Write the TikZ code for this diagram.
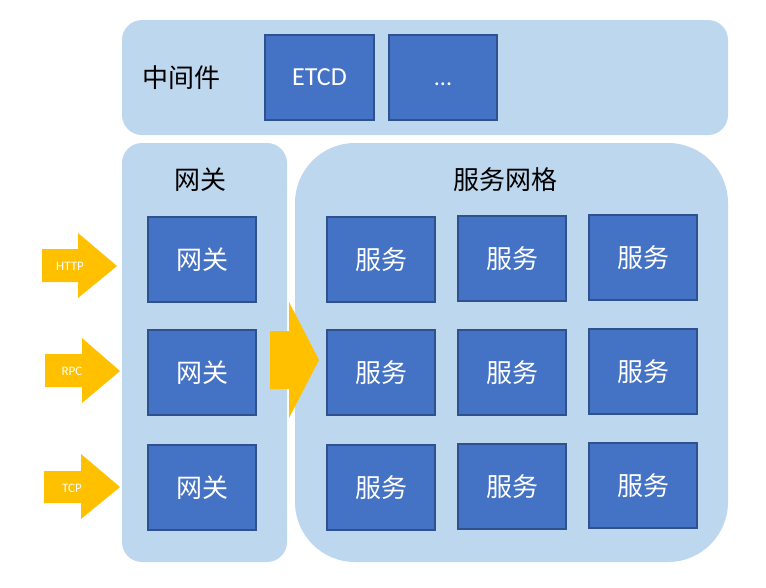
\documentclass[tikz,border=0pt]{standalone}
\usepackage{fontspec}
\setmainfont{Carlito}
\newfontfamily\cjk{Noto Sans CJK SC}
\definecolor{contfill}{HTML}{BDD7EE}
\definecolor{boxfill}{HTML}{4472C4}
\definecolor{boxline}{HTML}{2F528F}
\definecolor{arrowc}{HTML}{FFC000}
\begin{document}
\begin{tikzpicture}[x=1pt,y=-1pt,
  container/.style={fill=contfill,draw=none},
  itembox/.style={fill=boxfill,draw=boxline,line width=1.3pt,text=white,font=\fontsize{26}{30}\selectfont\cjk,inner sep=0pt},
  grouplabel/.style={text=black,font=\fontsize{26}{30}\selectfont\cjk,inner sep=0pt},
  arrowtext/.style={text=white,font=\fontsize{13}{15}\selectfont,inner sep=0pt}]
\useasboundingbox (0,0) rectangle (766,587);
% containers
\path[container,rounded corners=20pt] (122,20) rectangle (728,135);
\path[container,rounded corners=20pt] (122,143) rectangle (287,562);
\path[container,rounded corners=60pt] (295,143) rectangle (728,562);
\node[grouplabel] (mwlabel) at (181,78) {中间件};
\node[grouplabel] (gwlabel) at (200,180) {网关};
\node[grouplabel] (smlabel) at (505,180) {服务网格};
% middleware boxes
\newcommand{\itemrect}[6]{\draw[itembox] (#2,#3) rectangle (#4,#5) node[midway] (#1) {#6};}
\itemrect{etcd}{265}{35}{374}{120}{\fontsize{26}{30}\selectfont\rmfamily ETCD}
\itemrect{more}{389}{35}{497}{120}{\fontsize{24}{28}\selectfont\rmfamily\vphantom{ETCD}...}
% gateways
\itemrect{gw1}{148}{217}{256}{302}{网关}
\itemrect{gw2}{148}{330}{256}{415}{网关}
\itemrect{gw3}{148}{445}{256}{530}{网关}
% services
\itemrect{s11}{327}{217}{435}{302}{服务}
\itemrect{s12}{458}{216}{566}{301}{服务}
\itemrect{s13}{589}{215}{697}{300}{服务}
\itemrect{s21}{327}{330}{435}{415}{服务}
\itemrect{s22}{458}{330}{566}{415}{服务}
\itemrect{s23}{589}{329}{697}{414}{服务}
\itemrect{s31}{327}{445}{435}{530}{服务}
\itemrect{s32}{458}{444}{566}{529}{服务}
\itemrect{s33}{589}{443}{697}{528}{服务}
% arrows
\fill[arrowc] (42,249) -- (78,249) -- (78,233) -- (117,266) -- (78,298) -- (78,282) -- (42,282) -- cycle;
\node[arrowtext] (http) at (70,266) {HTTP};
\fill[arrowc] (45,354) -- (82,354) -- (82,338) -- (120,371) -- (82,403) -- (82,387) -- (45,387) -- cycle;
\node[arrowtext] (rpc) at (72,371) {RPC};
\fill[arrowc] (44,471) -- (81,471) -- (81,454) -- (120,487) -- (81,519) -- (81,503) -- (44,503) -- cycle;
\node[arrowtext] (tcp) at (72,488) {TCP};
\fill[arrowc] (270,331) -- (289,331) -- (289,302) -- (319,360) -- (289,418) -- (289,389) -- (270,389) -- cycle;
\end{tikzpicture}
\end{document}
